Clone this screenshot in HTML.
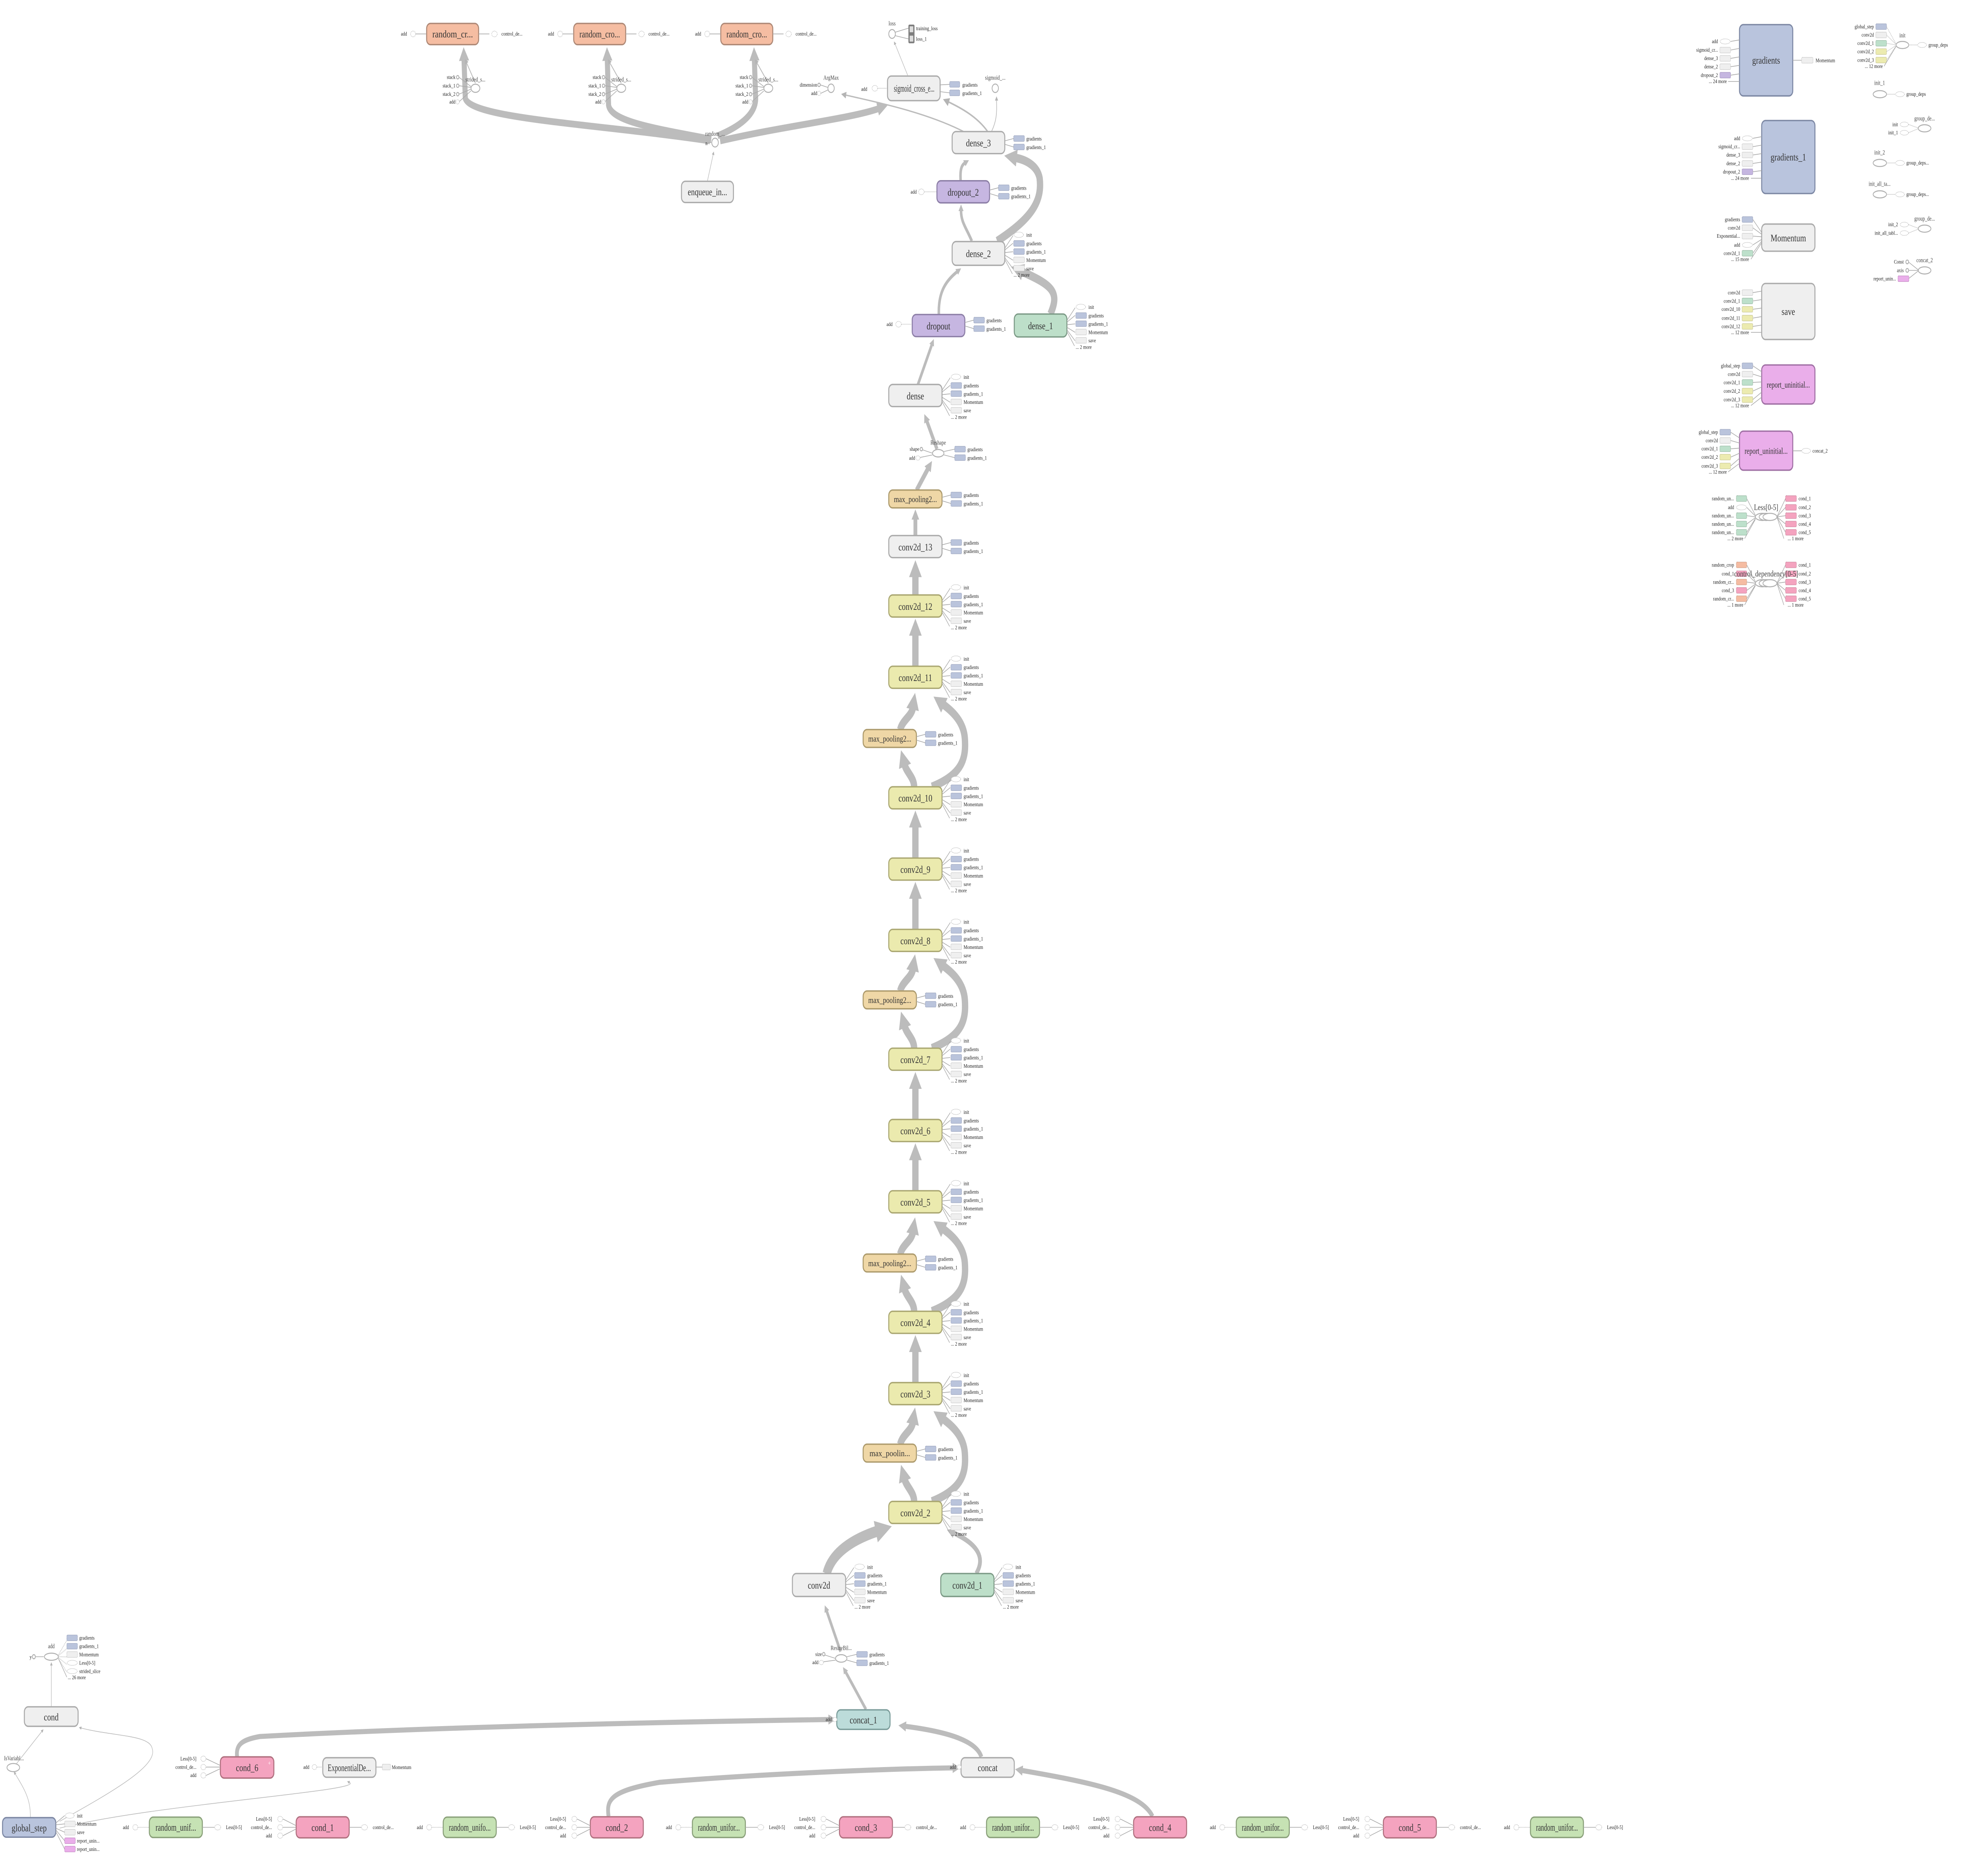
<!DOCTYPE html>
<html><head><meta charset="utf-8"><title>graph</title>
<style>
html,body{margin:0;padding:0;background:#fff;overflow:hidden;width:100%;height:100%;}
svg{display:block;width:100vw;height:100vh;}
text{font-family:"Liberation Serif","DejaVu Serif",serif;fill:#333;}
.t{font-size:6px;text-anchor:middle;}
.tb{font-size:5.2px;text-anchor:middle;}
.s{font-size:3.3px;fill:#222;}
.se{font-size:3.3px;fill:#222;text-anchor:end;}
.sc{font-size:3.6px;fill:#444;text-anchor:middle;}
.N{stroke-width:.8;}
.gray{fill:#efefef;stroke:#ababab;}
.yel{fill:#ebeaae;stroke:#aaa772;}
.tan{fill:#efd7a6;stroke:#ac9a6c;}
.pur{fill:#c6b6e1;stroke:#8c7ea6;}
.grn{fill:#bddfc9;stroke:#7c9a86;}
.lgr{fill:#c6e2b4;stroke:#8aa07a;}
.pnk{fill:#f4a3bf;stroke:#b0707f;}
.tea{fill:#bcdcda;stroke:#7a9c9a;}
.org{fill:#f5bda2;stroke:#ad8876;}
.blu{fill:#b9c4dd;stroke:#7d88a4;}
.mag{fill:#eaaeea;stroke:#a070a4;}
.sl{fill:none;stroke:#aaa;stroke-width:.4;}
.sd{fill:none;stroke:#bbb;stroke-width:.4;stroke-dasharray:.6 .4;}
.de{fill:#fff;stroke:#bbb;stroke-width:.35;stroke-dasharray:.6 .4;}
.el{fill:#fff;stroke:#b0b0b0;stroke-width:.6;}
.rb{fill:#bac4dc;stroke:#8a94b0;stroke-width:.3;stroke-dasharray:.6 .3;}
.rg{fill:#efefef;stroke:#bbb;stroke-width:.3;stroke-dasharray:.6 .3;}
.ry{fill:#ecebb0;stroke:#b8b680;stroke-width:.3;stroke-dasharray:.6 .3;}
.rn{fill:#bde0cb;stroke:#86a892;stroke-width:.3;stroke-dasharray:.6 .3;}
.rp{fill:#f4a3bf;stroke:#c07890;stroke-width:.3;stroke-dasharray:.6 .3;}
.ro{fill:#f5bca2;stroke:#c0907a;stroke-width:.3;stroke-dasharray:.6 .3;}
.rv{fill:#c5b6e0;stroke:#9080b0;stroke-width:.3;stroke-dasharray:.6 .3;}
.rm{fill:#eaaeea;stroke:#b070b0;stroke-width:.3;stroke-dasharray:.6 .3;}
.E{fill:none;stroke:#bcbcbc;}
</style></head>
<body>
<svg xmlns="http://www.w3.org/2000/svg" viewBox="0 0 1568 1104" preserveAspectRatio="none">
<defs>
<marker id="a" viewBox="0 0 10 10" refX="1" refY="5" markerWidth="2" markerHeight="2" markerUnits="strokeWidth" orient="auto"><path d="M0,0L10,5L0,10z" fill="#bcbcbc"/></marker>
<marker id="b" viewBox="0 0 10 10" refX="1" refY="5" markerWidth="5" markerHeight="5" markerUnits="strokeWidth" orient="auto"><path d="M0,0L10,5L0,10z" fill="#b4b4b4"/></marker>
</defs>
<rect width="1568" height="1104" fill="#fff"/>

<g class="E">
<path d="M560,83 C470,73 372,70 367,58 L366,35" stroke-width="4" marker-end="url(#a)"/>
<path d="M561,82 C520,76 482,72 480,62 L479,35" stroke-width="4" marker-end="url(#a)"/>
<path d="M566,80 C582,75 596,68 596,58 L595,35" stroke-width="4" marker-end="url(#a)"/>
<path d="M568,83 C620,74 670,70 693,64" stroke-width="4" marker-end="url(#a)"/>
<path d="M375,49 L368,37" stroke-width=".6" marker-end="url(#b)"/>
<path d="M490,49 L481,37" stroke-width=".6" marker-end="url(#b)"/>
<path d="M606,49 L597,37" stroke-width=".6" marker-end="url(#b)"/>
<path d="M558,106.5 L562.5,91" stroke-width=".4" marker-end="url(#b)"/>
<path d="M716,44.5 L706,26" stroke-width=".4" marker-end="url(#b)"/>
<path d="M760,77.5 C730,66 690,60 667,56" stroke-width=".8" marker-end="url(#b)"/>
<path d="M779,77.5 C770,68 756,63 748,60" stroke-width="1" marker-end="url(#b)"/>
<path d="M782,77.5 C787,70 786,64 786,59" stroke-width=".5" marker-end="url(#b)"/>
<path d="M757.7,106.5 C757,99 759,97 761,96" stroke-width="2" marker-end="url(#a)"/>
<path d="M786.5,142 C815,128 822,118 820,105 C818,97 808,94 801,93" stroke-width="5" marker-end="url(#a)"/>
<path d="M766.5,142 C762,134 758,131 758,124" stroke-width="2" marker-end="url(#a)"/>
<path d="M828.5,185 C836,172 830,168 806,160" stroke-width="5" marker-end="url(#a)"/>
<path d="M740.5,185 C740,171 747,165 755,160" stroke-width="2" marker-end="url(#a)"/>
<path d="M724,226.5 L735,203" stroke-width="2" marker-end="url(#a)"/>
<path d="M739,264.5 L731,248" stroke-width="2.5" marker-end="url(#a)"/>
<path d="M723,288.7 L732,276" stroke-width="3" marker-end="url(#a)"/>
<path d="M722,315.5 L722,305.5" stroke-width="3" marker-end="url(#a)"/>
<path d="M722,350.5 L722,339" stroke-width="5" marker-end="url(#a)"/>
<path d="M722,392.5 L722,373.5" stroke-width="5" marker-end="url(#a)"/>
<path d="M722,505.5 L722,486.5" stroke-width="5" marker-end="url(#a)"/>
<path d="M722,547.5 L722,528.5" stroke-width="5" marker-end="url(#a)"/>
<path d="M722,659.5 L722,640.5" stroke-width="5" marker-end="url(#a)"/>
<path d="M722,701.5 L722,682.5" stroke-width="5" marker-end="url(#a)"/>
<path d="M722,814.5 L722,795.5" stroke-width="5" marker-end="url(#a)"/>
<g transform="translate(722,891)"><path d="M-1,-6.5 C-1,-12 -7,-15 -8.5,-19.5" stroke-width="5" marker-end="url(#a)"/><path d="M-12,-40.2 C-10,-46 -3,-48 -2,-53" stroke-width="5" marker-end="url(#a)"/><path d="M13,-6.5 C38,-14 40,-24 39,-35 C38,-46 27,-52 22,-55" stroke-width="5" marker-end="url(#a)"/></g>
<g transform="translate(722,779)"><path d="M-1,-6.5 C-1,-12 -7,-15 -8.5,-19.5" stroke-width="5" marker-end="url(#a)"/><path d="M-12,-40.2 C-10,-46 -3,-48 -2,-53" stroke-width="5" marker-end="url(#a)"/><path d="M13,-6.5 C38,-14 40,-24 39,-35 C38,-46 27,-52 22,-55" stroke-width="5" marker-end="url(#a)"/></g>
<g transform="translate(722,624)"><path d="M-1,-6.5 C-1,-12 -7,-15 -8.5,-19.5" stroke-width="5" marker-end="url(#a)"/><path d="M-12,-40.2 C-10,-46 -3,-48 -2,-53" stroke-width="5" marker-end="url(#a)"/><path d="M13,-6.5 C38,-14 40,-24 39,-35 C38,-46 27,-52 22,-55" stroke-width="5" marker-end="url(#a)"/></g>
<g transform="translate(722,470)"><path d="M-1,-6.5 C-1,-12 -7,-15 -8.5,-19.5" stroke-width="5" marker-end="url(#a)"/><path d="M-12,-40.2 C-10,-46 -3,-48 -2,-53" stroke-width="5" marker-end="url(#a)"/><path d="M13,-6.5 C38,-14 40,-24 39,-35 C38,-46 27,-52 22,-55" stroke-width="5" marker-end="url(#a)"/></g>
<path d="M652,927 C656,915 672,907 692,902" stroke-width="6.5" marker-end="url(#a)"/>
<path d="M770,927 C777,918 772,910 752,903" stroke-width="3" marker-end="url(#a)"/>
<path d="M663,973 L652,949" stroke-width="2" marker-end="url(#a)"/>
<path d="M683,1007 L667,985" stroke-width="2" marker-end="url(#a)"/>
<path d="M774,1035 C770,1025 745,1020 714,1017" stroke-width="3" marker-end="url(#a)"/>
<path d="M187,1035 C186,1028 190,1025 205,1023 C350,1017 560,1014 654,1013" stroke-width="3" marker-end="url(#a)"/>
<path d="M480,1070 C478,1060 482,1055 520,1050 C600,1045 700,1042 752,1041.5" stroke-width="3" marker-end="url(#a)"/>
<path d="M909,1070 C900,1056 860,1050 806,1043" stroke-width="3" marker-end="url(#a)"/>
<path d="M24,1070.5 C24,1060 20,1055 12,1045" stroke-width=".4" marker-end="url(#b)"/>
<path d="M13,1039 L33,1020" stroke-width=".4" marker-end="url(#b)"/>
<path d="M47,1073 C90,1055 125,1040 120,1030 C118,1022 90,1023 64,1018" stroke-width=".4" marker-end="url(#b)"/>
<path d="M47,1077 C120,1063 290,1055 275.5,1050" stroke-width=".4" marker-end="url(#b)"/>
<path d="M40.5,1005.5 L40.5,981" stroke-width=".4" marker-end="url(#b)"/>
</g>

<g>
<rect class="N org" x="336.5" y="13.8" width="41" height="12.5" rx="3"/><text class="t" x="357" y="22" textLength="32" lengthAdjust="spacingAndGlyphs">random_cr...</text>
<text class="se" x="321" y="21">add</text><ellipse class="de" cx="325.8" cy="20" rx="2" ry="1.7"/><path class="sl" d="M328,20H336"/><path class="sl" d="M377.5,20H386"/><ellipse class="de" cx="390" cy="20" rx="2.2" ry="1.7"/><text class="s" x="395.5" y="21">control_de...</text>
<rect class="N org" x="452.5" y="13.8" width="41" height="12.5" rx="3"/><text class="t" x="473" y="22" textLength="32" lengthAdjust="spacingAndGlyphs">random_cro...</text>
<text class="se" x="437" y="21">add</text><ellipse class="de" cx="441.8" cy="20" rx="2" ry="1.7"/><path class="sl" d="M444,20H452"/><path class="sl" d="M493.5,20H502"/><ellipse class="de" cx="506" cy="20" rx="2.2" ry="1.7"/><text class="s" x="511.5" y="21">control_de...</text>
<rect class="N org" x="568.5" y="13.8" width="41" height="12.5" rx="3"/><text class="t" x="589" y="22" textLength="32" lengthAdjust="spacingAndGlyphs">random_cro...</text>
<text class="se" x="553" y="21">add</text><ellipse class="de" cx="557.8" cy="20" rx="2" ry="1.7"/><path class="sl" d="M560,20H568"/><path class="sl" d="M609.5,20H618"/><ellipse class="de" cx="622" cy="20" rx="2.2" ry="1.7"/><text class="s" x="627.5" y="21">control_de...</text>

<g transform="translate(375,52)"><ellipse class="el" cx="0" cy="0" rx="3.5" ry="2.4"/><text class="sc" x="0" y="-4">strided_s...</text><path class="sl" d="M-13,-6.5L-3.5,-1M-13,-1.5L-3.5,-.5M-13,3.5L-3.5,.5M-13,8L-3.5,1.5"/><circle class="el" cx="-14" cy="-6.5" r="1"/><circle class="el" cx="-14" cy="-1.5" r="1"/><circle class="el" cx="-14" cy="3.5" r="1"/><ellipse class="de" cx="-14" cy="8" rx="1.3" ry="1.3"/><text class="se" x="-15.8" y="-5.5">stack</text><text class="se" x="-15.8" y="-.5">stack_1</text><text class="se" x="-15.8" y="4.5">stack_2</text><text class="se" x="-15.8" y="9">add</text></g>
<g transform="translate(490,52)"><ellipse class="el" cx="0" cy="0" rx="3.5" ry="2.4"/><text class="sc" x="0" y="-4">strided_s...</text><path class="sl" d="M-13,-6.5L-3.5,-1M-13,-1.5L-3.5,-.5M-13,3.5L-3.5,.5M-13,8L-3.5,1.5"/><circle class="el" cx="-14" cy="-6.5" r="1"/><circle class="el" cx="-14" cy="-1.5" r="1"/><circle class="el" cx="-14" cy="3.5" r="1"/><ellipse class="de" cx="-14" cy="8" rx="1.3" ry="1.3"/><text class="se" x="-15.8" y="-5.5">stack</text><text class="se" x="-15.8" y="-.5">stack_1</text><text class="se" x="-15.8" y="4.5">stack_2</text><text class="se" x="-15.8" y="9">add</text></g>
<g transform="translate(606,52)"><ellipse class="el" cx="0" cy="0" rx="3.5" ry="2.4"/><text class="sc" x="0" y="-4">strided_s...</text><path class="sl" d="M-13,-6.5L-3.5,-1M-13,-1.5L-3.5,-.5M-13,3.5L-3.5,.5M-13,8L-3.5,1.5"/><circle class="el" cx="-14" cy="-6.5" r="1"/><circle class="el" cx="-14" cy="-1.5" r="1"/><circle class="el" cx="-14" cy="3.5" r="1"/><ellipse class="de" cx="-14" cy="8" rx="1.3" ry="1.3"/><text class="se" x="-15.8" y="-5.5">stack</text><text class="se" x="-15.8" y="-.5">stack_1</text><text class="se" x="-15.8" y="4.5">stack_2</text><text class="se" x="-15.8" y="9">add</text></g>

<ellipse class="el" cx="564" cy="84" rx="2.6" ry="2.6"/><text class="sc" x="564" y="80">random_...</text><text class="se" x="558" y="85.5">n</text><path class="sl" d="M558.5,84H561"/>
<rect class="N gray" x="537.5" y="106.8" width="41" height="12.5" rx="3"/><text class="t" x="558" y="115" textLength="31" lengthAdjust="spacingAndGlyphs">enqueue_in...</text>

<ellipse class="el" cx="703.6" cy="20" rx="2.6" ry="2.6"/><text class="sc" x="703.6" y="15">loss</text>
<path class="sl" d="M706,19L717,16.5M706,21L717,23"/>
<rect x="716.5" y="14.5" width="4.8" height="11" rx=".8" fill="#7e7e7e"/><rect x="717.5" y="15.5" width="2.8" height="3.5" fill="#ddd"/><rect x="717.5" y="21" width="2.8" height="3.5" fill="#ddd"/>
<text class="s" x="722.5" y="17.8">training_loss</text><text class="s" x="722.5" y="24">loss_1</text>
<ellipse class="el" cx="655.5" cy="52" rx="2.5" ry="2.5"/><text class="sc" x="655.5" y="47">ArgMax</text>
<circle class="el" cx="646" cy="50" r="1"/><ellipse class="de" cx="646" cy="55" rx="1.3" ry="1.3"/><path class="sl" d="M647,50L653,51.5M647.3,55L653,53"/>
<text class="se" x="644.5" y="51">dimension</text><text class="se" x="644.5" y="56">add</text>
<ellipse class="el" cx="785" cy="52" rx="2.5" ry="2.5"/><text class="sc" x="785" y="47">sigmoid_...</text>
<rect class="N gray" x="700" y="44.8" width="41.5" height="14.5" rx="3"/><text class="t" x="721" y="54" textLength="32" lengthAdjust="spacingAndGlyphs">sigmoid_cross_e...</text>
<text class="se" x="684" y="53.5">add</text><ellipse class="de" cx="690" cy="52" rx="2.2" ry="1.7"/><path class="sd" d="M692.3,52H699.5"/>
<path class="sl" d="M741.5,50L749,49.7M741.5,54L749,54.7"/><rect class="rb" x="749" y="48" width="8" height="3.4" rx=".6"/><rect class="rb" x="749" y="53" width="8" height="3.4" rx=".6"/><text class="s" x="759" y="51">gradients</text><text class="s" x="759" y="56">gradients_1</text>

<rect class="N gray" x="751" y="77.5" width="41.5" height="13" rx="3"/><text class="t" x="771.7" y="86.2">dense_3</text>
<g transform="translate(792.5,84)"><path class="sl" d="M0-1L7-2.4M0 1L7 2.6"/><rect class="rb" x="7" y="-4.1" width="8.5" height="3.4" rx=".6"/><rect class="rb" x="7" y="0.9" width="8.5" height="3.4" rx=".6"/><text class="s" x="17" y="-1.2">gradients</text><text class="s" x="17" y="3.8">gradients_1</text></g>
<rect class="N pur" x="739" y="106.5" width="41.5" height="13" rx="3"/><text class="t" x="759.7" y="115.2">dropout_2</text>
<text class="se" x="723" y="114">add</text><ellipse class="de" cx="726.7" cy="113" rx="2.2" ry="1.7"/><path class="sd" d="M729,113H738.5"/>
<g transform="translate(780.5,113)"><path class="sl" d="M0-1L7-2.4M0 1L7 2.6"/><rect class="rb" x="7" y="-4.1" width="8.5" height="3.4" rx=".6"/><rect class="rb" x="7" y="0.9" width="8.5" height="3.4" rx=".6"/><text class="s" x="17" y="-1.2">gradients</text><text class="s" x="17" y="3.8">gradients_1</text></g>
<rect class="N gray" x="751" y="142.3" width="41.5" height="14" rx="3"/><text class="t" x="771.7" y="151.4">dense_2</text>
<rect class="N pur" x="719.5" y="185.3" width="41.5" height="13" rx="3"/><text class="t" x="740.2" y="194">dropout</text>
<text class="se" x="704" y="192">add</text><ellipse class="de" cx="708.7" cy="191" rx="2.2" ry="1.7"/><path class="sd" d="M711,191H719"/>
<g transform="translate(761,191)"><path class="sl" d="M0-1L7-2.4M0 1L7 2.6"/><rect class="rb" x="7" y="-4.1" width="8.5" height="3.4" rx=".6"/><rect class="rb" x="7" y="0.9" width="8.5" height="3.4" rx=".6"/><text class="s" x="17" y="-1.2">gradients</text><text class="s" x="17" y="3.8">gradients_1</text></g>
<rect class="N grn" x="800" y="185" width="41.5" height="13.5" rx="3"/><text class="t" x="820.7" y="193.9">dense_1</text>
<rect class="N gray" x="701" y="226.5" width="42" height="13" rx="3"/><text class="t" x="722" y="235.2">dense</text>
<ellipse class="el" cx="740" cy="267" rx="4.5" ry="2.2"/><text class="sc" x="740" y="262">Reshape</text>
<circle class="el" cx="726.7" cy="264.6" r="1"/><ellipse class="de" cx="724" cy="269.8" rx="1.7" ry="1.3"/><path class="sl" d="M727.7,265L735.5,267M725.7,269.5L735.5,268"/>
<text class="se" x="725" y="265.6">shape</text><text class="se" x="721.8" y="270.8">add</text>
<g transform="translate(744.5,267)"><path class="sl" d="M0-1L8.5-2.4M0 1L8.5 2.6"/><rect class="rb" x="8.5" y="-4.1" width="8.5" height="3.4" rx=".6"/><rect class="rb" x="8.5" y="0.9" width="8.5" height="3.4" rx=".6"/><text class="s" x="18.5" y="-1.2">gradients</text><text class="s" x="18.5" y="3.8">gradients_1</text></g>
<rect class="N tan" x="701" y="288.7" width="42" height="10.5" rx="3"/><text class="tb" x="722" y="295.8" textLength="34" lengthAdjust="spacingAndGlyphs">max_pooling2...</text>
<g transform="translate(743,294)"><path class="sl" d="M0-1L7-2.4M0 1L7 2.6"/><rect class="rb" x="7" y="-4.1" width="8.5" height="3.4" rx=".6"/><rect class="rb" x="7" y="0.9" width="8.5" height="3.4" rx=".6"/><text class="s" x="17" y="-1.2">gradients</text><text class="s" x="17" y="3.8">gradients_1</text></g>
<rect class="N gray" x="701" y="315.5" width="42" height="13" rx="3"/><text class="t" x="722" y="324.2">conv2d_13</text>
<g transform="translate(743,322)"><path class="sl" d="M0-1L7-2.4M0 1L7 2.6"/><rect class="rb" x="7" y="-4.1" width="8.5" height="3.4" rx=".6"/><rect class="rb" x="7" y="0.9" width="8.5" height="3.4" rx=".6"/><text class="s" x="17" y="-1.2">gradients</text><text class="s" x="17" y="3.8">gradients_1</text></g>
</g>

<g>
<rect class="N yel" x="701" y="350.5" width="42" height="13" rx="3"/><text class="t" x="722" y="359.2">conv2d_12</text>
<rect class="N yel" x="701" y="392.5" width="42" height="13" rx="3"/><text class="t" x="722" y="401.2">conv2d_11</text>
<rect class="N yel" x="701" y="463.5" width="42" height="13" rx="3"/><text class="t" x="722" y="472.2">conv2d_10</text>
<rect class="N yel" x="701" y="505.5" width="42" height="13" rx="3"/><text class="t" x="722" y="514.2">conv2d_9</text>
<rect class="N yel" x="701" y="547.5" width="42" height="13" rx="3"/><text class="t" x="722" y="556.2">conv2d_8</text>
<rect class="N yel" x="701" y="617.5" width="42" height="13" rx="3"/><text class="t" x="722" y="626.2">conv2d_7</text>
<rect class="N yel" x="701" y="659.5" width="42" height="13" rx="3"/><text class="t" x="722" y="668.2">conv2d_6</text>
<rect class="N yel" x="701" y="701.5" width="42" height="13" rx="3"/><text class="t" x="722" y="710.2">conv2d_5</text>
<rect class="N yel" x="701" y="772.5" width="42" height="13" rx="3"/><text class="t" x="722" y="781.2">conv2d_4</text>
<rect class="N yel" x="701" y="814.5" width="42" height="13" rx="3"/><text class="t" x="722" y="823.2">conv2d_3</text>
<rect class="N yel" x="701" y="884.5" width="42" height="13" rx="3"/><text class="t" x="722" y="893.2">conv2d_2</text>
<rect class="N gray" x="625" y="927" width="42" height="13.5" rx="3"/><text class="t" x="646" y="935.9">conv2d</text>
<rect class="N grn" x="742" y="927" width="42" height="13.5" rx="3"/><text class="t" x="763" y="935.9">conv2d_1</text>
<rect class="N tan" x="680.8" y="429.8" width="42" height="10.5" rx="3"/><text class="tb" x="701.8" y="436.9" textLength="34" lengthAdjust="spacingAndGlyphs">max_pooling2...</text>
<rect class="N tan" x="680.8" y="583.8" width="42" height="10.5" rx="3"/><text class="tb" x="701.8" y="590.9" textLength="34" lengthAdjust="spacingAndGlyphs">max_pooling2...</text>
<rect class="N tan" x="680.8" y="738.8" width="42" height="10.5" rx="3"/><text class="tb" x="701.8" y="745.9" textLength="34" lengthAdjust="spacingAndGlyphs">max_pooling2...</text>
<rect class="N tan" x="680.8" y="850.8" width="42" height="10.5" rx="3"/><text class="tb" x="701.8" y="857.9" textLength="32" lengthAdjust="spacingAndGlyphs">max_poolin...</text>
</g>

<g transform="translate(722.8,435)"><path class="sl" d="M0-1L7-2.4M0 1L7 2.6"/><rect class="rb" x="7" y="-4.1" width="8.5" height="3.4" rx=".6"/><rect class="rb" x="7" y="0.9" width="8.5" height="3.4" rx=".6"/><text class="s" x="17" y="-1.2">gradients</text><text class="s" x="17" y="3.8">gradients_1</text></g>
<g transform="translate(722.8,589)"><path class="sl" d="M0-1L7-2.4M0 1L7 2.6"/><rect class="rb" x="7" y="-4.1" width="8.5" height="3.4" rx=".6"/><rect class="rb" x="7" y="0.9" width="8.5" height="3.4" rx=".6"/><text class="s" x="17" y="-1.2">gradients</text><text class="s" x="17" y="3.8">gradients_1</text></g>
<g transform="translate(722.8,744)"><path class="sl" d="M0-1L7-2.4M0 1L7 2.6"/><rect class="rb" x="7" y="-4.1" width="8.5" height="3.4" rx=".6"/><rect class="rb" x="7" y="0.9" width="8.5" height="3.4" rx=".6"/><text class="s" x="17" y="-1.2">gradients</text><text class="s" x="17" y="3.8">gradients_1</text></g>
<g transform="translate(722.8,856)"><path class="sl" d="M0-1L7-2.4M0 1L7 2.6"/><rect class="rb" x="7" y="-4.1" width="8.5" height="3.4" rx=".6"/><rect class="rb" x="7" y="0.9" width="8.5" height="3.4" rx=".6"/><text class="s" x="17" y="-1.2">gradients</text><text class="s" x="17" y="3.8">gradients_1</text></g>

<g transform="translate(743,233)"><path class="sl" d="M0-3L6.5-10.5M0-2L6.5-6M0-0.5L6.5-1M0 1L6.5 4M0 2.5L6.5 9M0 3.5L6 12"/><ellipse class="de" cx="11" cy="-11" rx="3.8" ry="1.6"/><rect class="rb" x="7" y="-7.6" width="8.5" height="3.4" rx=".6"/><rect class="rb" x="7" y="-2.8" width="8.5" height="3.4" rx=".6"/><rect class="rg" x="7" y="2.1" width="8.5" height="3.4" rx=".6"/><rect class="rg" x="7" y="7" width="8.5" height="3.4" rx=".6"/><text class="s" x="17" y="-9.8">init</text><text class="s" x="17" y="-4.8">gradients</text><text class="s" x="17" y="0.1">gradients_1</text><text class="s" x="17" y="5">Momentum</text><text class="s" x="17" y="9.9">save</text><text class="s" x="7" y="13.7">... 2 more</text></g>
<g transform="translate(792.5,149.3)"><path class="sl" d="M0-3L6.5-10.5M0-2L6.5-6M0-0.5L6.5-1M0 1L6.5 4M0 2.5L6.5 9M0 3.5L6 12"/><ellipse class="de" cx="11" cy="-11" rx="3.8" ry="1.6"/><rect class="rb" x="7" y="-7.6" width="8.5" height="3.4" rx=".6"/><rect class="rb" x="7" y="-2.8" width="8.5" height="3.4" rx=".6"/><rect class="rg" x="7" y="2.1" width="8.5" height="3.4" rx=".6"/><rect class="rg" x="7" y="7" width="8.5" height="3.4" rx=".6"/><text class="s" x="17" y="-9.8">init</text><text class="s" x="17" y="-4.8">gradients</text><text class="s" x="17" y="0.1">gradients_1</text><text class="s" x="17" y="5">Momentum</text><text class="s" x="17" y="9.9">save</text><text class="s" x="7" y="13.7">... 2 more</text></g>
<g transform="translate(841.5,191.8)"><path class="sl" d="M0-3L6.5-10.5M0-2L6.5-6M0-0.5L6.5-1M0 1L6.5 4M0 2.5L6.5 9M0 3.5L6 12"/><ellipse class="de" cx="11" cy="-11" rx="3.8" ry="1.6"/><rect class="rb" x="7" y="-7.6" width="8.5" height="3.4" rx=".6"/><rect class="rb" x="7" y="-2.8" width="8.5" height="3.4" rx=".6"/><rect class="rg" x="7" y="2.1" width="8.5" height="3.4" rx=".6"/><rect class="rg" x="7" y="7" width="8.5" height="3.4" rx=".6"/><text class="s" x="17" y="-9.8">init</text><text class="s" x="17" y="-4.8">gradients</text><text class="s" x="17" y="0.1">gradients_1</text><text class="s" x="17" y="5">Momentum</text><text class="s" x="17" y="9.9">save</text><text class="s" x="7" y="13.7">... 2 more</text></g>
<g transform="translate(743,357)"><path class="sl" d="M0-3L6.5-10.5M0-2L6.5-6M0-0.5L6.5-1M0 1L6.5 4M0 2.5L6.5 9M0 3.5L6 12"/><ellipse class="de" cx="11" cy="-11" rx="3.8" ry="1.6"/><rect class="rb" x="7" y="-7.6" width="8.5" height="3.4" rx=".6"/><rect class="rb" x="7" y="-2.8" width="8.5" height="3.4" rx=".6"/><rect class="rg" x="7" y="2.1" width="8.5" height="3.4" rx=".6"/><rect class="rg" x="7" y="7" width="8.5" height="3.4" rx=".6"/><text class="s" x="17" y="-9.8">init</text><text class="s" x="17" y="-4.8">gradients</text><text class="s" x="17" y="0.1">gradients_1</text><text class="s" x="17" y="5">Momentum</text><text class="s" x="17" y="9.9">save</text><text class="s" x="7" y="13.7">... 2 more</text></g>
<g transform="translate(743,399)"><path class="sl" d="M0-3L6.5-10.5M0-2L6.5-6M0-0.5L6.5-1M0 1L6.5 4M0 2.5L6.5 9M0 3.5L6 12"/><ellipse class="de" cx="11" cy="-11" rx="3.8" ry="1.6"/><rect class="rb" x="7" y="-7.6" width="8.5" height="3.4" rx=".6"/><rect class="rb" x="7" y="-2.8" width="8.5" height="3.4" rx=".6"/><rect class="rg" x="7" y="2.1" width="8.5" height="3.4" rx=".6"/><rect class="rg" x="7" y="7" width="8.5" height="3.4" rx=".6"/><text class="s" x="17" y="-9.8">init</text><text class="s" x="17" y="-4.8">gradients</text><text class="s" x="17" y="0.1">gradients_1</text><text class="s" x="17" y="5">Momentum</text><text class="s" x="17" y="9.9">save</text><text class="s" x="7" y="13.7">... 2 more</text></g>
<g transform="translate(743,470)"><path class="sl" d="M0-3L6.5-10.5M0-2L6.5-6M0-0.5L6.5-1M0 1L6.5 4M0 2.5L6.5 9M0 3.5L6 12"/><ellipse class="de" cx="11" cy="-11" rx="3.8" ry="1.6"/><rect class="rb" x="7" y="-7.6" width="8.5" height="3.4" rx=".6"/><rect class="rb" x="7" y="-2.8" width="8.5" height="3.4" rx=".6"/><rect class="rg" x="7" y="2.1" width="8.5" height="3.4" rx=".6"/><rect class="rg" x="7" y="7" width="8.5" height="3.4" rx=".6"/><text class="s" x="17" y="-9.8">init</text><text class="s" x="17" y="-4.8">gradients</text><text class="s" x="17" y="0.1">gradients_1</text><text class="s" x="17" y="5">Momentum</text><text class="s" x="17" y="9.9">save</text><text class="s" x="7" y="13.7">... 2 more</text></g>
<g transform="translate(743,512)"><path class="sl" d="M0-3L6.5-10.5M0-2L6.5-6M0-0.5L6.5-1M0 1L6.5 4M0 2.5L6.5 9M0 3.5L6 12"/><ellipse class="de" cx="11" cy="-11" rx="3.8" ry="1.6"/><rect class="rb" x="7" y="-7.6" width="8.5" height="3.4" rx=".6"/><rect class="rb" x="7" y="-2.8" width="8.5" height="3.4" rx=".6"/><rect class="rg" x="7" y="2.1" width="8.5" height="3.4" rx=".6"/><rect class="rg" x="7" y="7" width="8.5" height="3.4" rx=".6"/><text class="s" x="17" y="-9.8">init</text><text class="s" x="17" y="-4.8">gradients</text><text class="s" x="17" y="0.1">gradients_1</text><text class="s" x="17" y="5">Momentum</text><text class="s" x="17" y="9.9">save</text><text class="s" x="7" y="13.7">... 2 more</text></g>
<g transform="translate(743,554)"><path class="sl" d="M0-3L6.5-10.5M0-2L6.5-6M0-0.5L6.5-1M0 1L6.5 4M0 2.5L6.5 9M0 3.5L6 12"/><ellipse class="de" cx="11" cy="-11" rx="3.8" ry="1.6"/><rect class="rb" x="7" y="-7.6" width="8.5" height="3.4" rx=".6"/><rect class="rb" x="7" y="-2.8" width="8.5" height="3.4" rx=".6"/><rect class="rg" x="7" y="2.1" width="8.5" height="3.4" rx=".6"/><rect class="rg" x="7" y="7" width="8.5" height="3.4" rx=".6"/><text class="s" x="17" y="-9.8">init</text><text class="s" x="17" y="-4.8">gradients</text><text class="s" x="17" y="0.1">gradients_1</text><text class="s" x="17" y="5">Momentum</text><text class="s" x="17" y="9.9">save</text><text class="s" x="7" y="13.7">... 2 more</text></g>
<g transform="translate(743,624)"><path class="sl" d="M0-3L6.5-10.5M0-2L6.5-6M0-0.5L6.5-1M0 1L6.5 4M0 2.5L6.5 9M0 3.5L6 12"/><ellipse class="de" cx="11" cy="-11" rx="3.8" ry="1.6"/><rect class="rb" x="7" y="-7.6" width="8.5" height="3.4" rx=".6"/><rect class="rb" x="7" y="-2.8" width="8.5" height="3.4" rx=".6"/><rect class="rg" x="7" y="2.1" width="8.5" height="3.4" rx=".6"/><rect class="rg" x="7" y="7" width="8.5" height="3.4" rx=".6"/><text class="s" x="17" y="-9.8">init</text><text class="s" x="17" y="-4.8">gradients</text><text class="s" x="17" y="0.1">gradients_1</text><text class="s" x="17" y="5">Momentum</text><text class="s" x="17" y="9.9">save</text><text class="s" x="7" y="13.7">... 2 more</text></g>
<g transform="translate(743,666)"><path class="sl" d="M0-3L6.5-10.5M0-2L6.5-6M0-0.5L6.5-1M0 1L6.5 4M0 2.5L6.5 9M0 3.5L6 12"/><ellipse class="de" cx="11" cy="-11" rx="3.8" ry="1.6"/><rect class="rb" x="7" y="-7.6" width="8.5" height="3.4" rx=".6"/><rect class="rb" x="7" y="-2.8" width="8.5" height="3.4" rx=".6"/><rect class="rg" x="7" y="2.1" width="8.5" height="3.4" rx=".6"/><rect class="rg" x="7" y="7" width="8.5" height="3.4" rx=".6"/><text class="s" x="17" y="-9.8">init</text><text class="s" x="17" y="-4.8">gradients</text><text class="s" x="17" y="0.1">gradients_1</text><text class="s" x="17" y="5">Momentum</text><text class="s" x="17" y="9.9">save</text><text class="s" x="7" y="13.7">... 2 more</text></g>
<g transform="translate(743,708)"><path class="sl" d="M0-3L6.5-10.5M0-2L6.5-6M0-0.5L6.5-1M0 1L6.5 4M0 2.5L6.5 9M0 3.5L6 12"/><ellipse class="de" cx="11" cy="-11" rx="3.8" ry="1.6"/><rect class="rb" x="7" y="-7.6" width="8.5" height="3.4" rx=".6"/><rect class="rb" x="7" y="-2.8" width="8.5" height="3.4" rx=".6"/><rect class="rg" x="7" y="2.1" width="8.5" height="3.4" rx=".6"/><rect class="rg" x="7" y="7" width="8.5" height="3.4" rx=".6"/><text class="s" x="17" y="-9.8">init</text><text class="s" x="17" y="-4.8">gradients</text><text class="s" x="17" y="0.1">gradients_1</text><text class="s" x="17" y="5">Momentum</text><text class="s" x="17" y="9.9">save</text><text class="s" x="7" y="13.7">... 2 more</text></g>
<g transform="translate(743,779)"><path class="sl" d="M0-3L6.5-10.5M0-2L6.5-6M0-0.5L6.5-1M0 1L6.5 4M0 2.5L6.5 9M0 3.5L6 12"/><ellipse class="de" cx="11" cy="-11" rx="3.8" ry="1.6"/><rect class="rb" x="7" y="-7.6" width="8.5" height="3.4" rx=".6"/><rect class="rb" x="7" y="-2.8" width="8.5" height="3.4" rx=".6"/><rect class="rg" x="7" y="2.1" width="8.5" height="3.4" rx=".6"/><rect class="rg" x="7" y="7" width="8.5" height="3.4" rx=".6"/><text class="s" x="17" y="-9.8">init</text><text class="s" x="17" y="-4.8">gradients</text><text class="s" x="17" y="0.1">gradients_1</text><text class="s" x="17" y="5">Momentum</text><text class="s" x="17" y="9.9">save</text><text class="s" x="7" y="13.7">... 2 more</text></g>
<g transform="translate(743,821)"><path class="sl" d="M0-3L6.5-10.5M0-2L6.5-6M0-0.5L6.5-1M0 1L6.5 4M0 2.5L6.5 9M0 3.5L6 12"/><ellipse class="de" cx="11" cy="-11" rx="3.8" ry="1.6"/><rect class="rb" x="7" y="-7.6" width="8.5" height="3.4" rx=".6"/><rect class="rb" x="7" y="-2.8" width="8.5" height="3.4" rx=".6"/><rect class="rg" x="7" y="2.1" width="8.5" height="3.4" rx=".6"/><rect class="rg" x="7" y="7" width="8.5" height="3.4" rx=".6"/><text class="s" x="17" y="-9.8">init</text><text class="s" x="17" y="-4.8">gradients</text><text class="s" x="17" y="0.1">gradients_1</text><text class="s" x="17" y="5">Momentum</text><text class="s" x="17" y="9.9">save</text><text class="s" x="7" y="13.7">... 2 more</text></g>
<g transform="translate(743,891)"><path class="sl" d="M0-3L6.5-10.5M0-2L6.5-6M0-0.5L6.5-1M0 1L6.5 4M0 2.5L6.5 9M0 3.5L6 12"/><ellipse class="de" cx="11" cy="-11" rx="3.8" ry="1.6"/><rect class="rb" x="7" y="-7.6" width="8.5" height="3.4" rx=".6"/><rect class="rb" x="7" y="-2.8" width="8.5" height="3.4" rx=".6"/><rect class="rg" x="7" y="2.1" width="8.5" height="3.4" rx=".6"/><rect class="rg" x="7" y="7" width="8.5" height="3.4" rx=".6"/><text class="s" x="17" y="-9.8">init</text><text class="s" x="17" y="-4.8">gradients</text><text class="s" x="17" y="0.1">gradients_1</text><text class="s" x="17" y="5">Momentum</text><text class="s" x="17" y="9.9">save</text><text class="s" x="7" y="13.7">... 2 more</text></g>
<g transform="translate(667,934)"><path class="sl" d="M0-3L6.5-10.5M0-2L6.5-6M0-0.5L6.5-1M0 1L6.5 4M0 2.5L6.5 9M0 3.5L6 12"/><ellipse class="de" cx="11" cy="-11" rx="3.8" ry="1.6"/><rect class="rb" x="7" y="-7.6" width="8.5" height="3.4" rx=".6"/><rect class="rb" x="7" y="-2.8" width="8.5" height="3.4" rx=".6"/><rect class="rg" x="7" y="2.1" width="8.5" height="3.4" rx=".6"/><rect class="rg" x="7" y="7" width="8.5" height="3.4" rx=".6"/><text class="s" x="17" y="-9.8">init</text><text class="s" x="17" y="-4.8">gradients</text><text class="s" x="17" y="0.1">gradients_1</text><text class="s" x="17" y="5">Momentum</text><text class="s" x="17" y="9.9">save</text><text class="s" x="7" y="13.7">... 2 more</text></g>
<g transform="translate(784,934)"><path class="sl" d="M0-3L6.5-10.5M0-2L6.5-6M0-0.5L6.5-1M0 1L6.5 4M0 2.5L6.5 9M0 3.5L6 12"/><ellipse class="de" cx="11" cy="-11" rx="3.8" ry="1.6"/><rect class="rb" x="7" y="-7.6" width="8.5" height="3.4" rx=".6"/><rect class="rb" x="7" y="-2.8" width="8.5" height="3.4" rx=".6"/><rect class="rg" x="7" y="2.1" width="8.5" height="3.4" rx=".6"/><rect class="rg" x="7" y="7" width="8.5" height="3.4" rx=".6"/><text class="s" x="17" y="-9.8">init</text><text class="s" x="17" y="-4.8">gradients</text><text class="s" x="17" y="0.1">gradients_1</text><text class="s" x="17" y="5">Momentum</text><text class="s" x="17" y="9.9">save</text><text class="s" x="7" y="13.7">... 2 more</text></g>

<ellipse class="el" cx="663.5" cy="977" rx="4.5" ry="2.2"/><text class="sc" x="663.5" y="972">ResizeBil...</text>
<circle class="el" cx="649.7" cy="974.5" r="1"/><ellipse class="de" cx="647.8" cy="979.4" rx="1.7" ry="1.3"/><path class="sl" d="M650.7,975L659,977M649.5,979L659,978"/>
<text class="se" x="648.2" y="975.5">size</text><text class="se" x="645.5" y="980.4">add</text>
<g transform="translate(668,977)"><path class="sl" d="M0-1L7.7-2.4M0 1L7.7 2.6"/><rect class="rb" x="7.7" y="-4.1" width="8.5" height="3.4" rx=".6"/><rect class="rb" x="7.7" y="0.9" width="8.5" height="3.4" rx=".6"/><text class="s" x="17.7" y="-1.2">gradients</text><text class="s" x="17.7" y="3.8">gradients_1</text></g>

<rect class="N tea" x="660" y="1007.3" width="42" height="11.5" rx="3"/><text class="t" x="681" y="1015.2">concat_1</text>
<text class="se" x="656" y="1014">add</text><ellipse class="de" cx="658.5" cy="1013" rx="1.7" ry="1.3"/>
<rect class="N gray" x="758" y="1035.5" width="42" height="11.5" rx="3"/><text class="t" x="779" y="1043.4">concat</text>
<text class="se" x="754" y="1042">add</text><ellipse class="de" cx="756.5" cy="1041" rx="1.7" ry="1.3"/>

<rect class="N gray" x="19.2" y="1005.5" width="42.4" height="11.5" rx="3"/><text class="t" x="40.4" y="1013.5">cond</text>
<ellipse class="el" cx="40.5" cy="976" rx="5.5" ry="2.1"/><text class="sc" x="40.5" y="971">add</text>
<circle class="el" cx="26.7" cy="976" r="1.2"/><text class="se" x="25" y="977.2">y</text><path class="sl" d="M28,976H34.5"/>
<path class="sd" d="M46,975L52.7,966.3M46,975.5L52.7,971.2M46,976L52.7,976.1M46,976.5L52.7,980.5M46,977L52.7,985"/><path class="sl" d="M46,977L52.7,988"/>
<rect class="rb" x="52.7" y="963.2" width="8.4" height="3.4" rx=".6"/><rect class="rb" x="52.7" y="968.1" width="8.4" height="3.4" rx=".6"/><rect class="rg" x="52.7" y="973" width="8.4" height="3.4" rx=".6"/><ellipse class="de" cx="57" cy="979.6" rx="4" ry="1.5"/><ellipse class="de" cx="57" cy="984.5" rx="4" ry="1.5"/>
<text class="s" x="62.5" y="966">gradients</text><text class="s" x="62.5" y="970.9">gradients_1</text><text class="s" x="62.5" y="975.8">Momentum</text><text class="s" x="62.5" y="980.7">Less[0-5]</text><text class="s" x="62.5" y="985.6">strided_slice</text><text class="s" x="53.5" y="989.3">... 26 more</text>

<ellipse class="el" cx="10.5" cy="1041.3" rx="5" ry="2.4"/><text class="sc" x="11" y="1037">IsVariabl...</text>

<rect class="N blu" x="2" y="1070.8" width="42" height="11.5" rx="3"/><text class="t" x="23" y="1078.8">global_step</text>
<path class="sl" d="M44,1074L51,1069.6M44,1075L51,1074.5M44,1077L51,1079.4M44,1078L51,1084.4M44,1079L51,1089.3"/>
<ellipse class="de" cx="55" cy="1069.6" rx="3.5" ry="1.6"/><rect class="rg" x="51" y="1072.8" width="8.4" height="3.4" rx=".6"/><rect class="rg" x="51" y="1077.7" width="8.4" height="3.4" rx=".6"/><rect class="rm" x="51" y="1082.7" width="8.4" height="3.4" rx=".6"/><rect class="rm" x="51" y="1087.6" width="8.4" height="3.4" rx=".6"/>
<text class="s" x="60.7" y="1070.7">init</text><text class="s" x="60.7" y="1075.6">Momentum</text><text class="s" x="60.7" y="1080.5">save</text><text class="s" x="60.7" y="1085.5">report_unin...</text><text class="s" x="60.7" y="1090.4">report_unin...</text>

<rect class="N pnk" x="173.8" y="1035" width="42.2" height="12.5" rx="3"/><text class="t" x="194.9" y="1043.3">cond_6</text><text x="212.5" y="1040" style="font-size:4px;fill:#fff;text-anchor:middle">+</text>
<g transform="translate(194.9,1041)"><text class="se" x="-40" y="-3.9">Less[0-5]</text><text class="se" x="-40" y="1">control_de...</text><text class="se" x="-40" y="5.9">add</text><ellipse class="de" cx="-34.5" cy="-4.9" rx="2" ry="1.6"/><ellipse class="de" cx="-34.5" cy="0" rx="2" ry="1.6"/><ellipse class="de" cx="-34.5" cy="4.9" rx="2" ry="1.6"/><path class="sl" d="M-32.3,-4.9L-21.3,-1M-32.3,0H-21.3M-32.3,4.9L-21.3,1"/></g>
<rect class="N gray" x="254.6" y="1035.5" width="41.9" height="11.5" rx="3"/><text class="t" x="275.5" y="1043.3" textLength="34" lengthAdjust="spacingAndGlyphs">ExponentialDe...</text>
<text class="se" x="244" y="1042">add</text><ellipse class="de" cx="248" cy="1041" rx="1.8" ry="1.5"/><path class="sd" d="M250,1041H254"/>
<path class="sl" d="M296.5,1041H301.5"/><rect class="rg" x="301.5" y="1039.3" width="6.5" height="3.4" rx=".6"/><text class="s" x="309" y="1042.2">Momentum</text>

<g transform="translate(138.7,1076.5)"><rect class="N lgr" x="-20.9" y="-6" width="41.8" height="12" rx="3"/><text class="t" x="0" y="2" textLength="32" lengthAdjust="spacingAndGlyphs">random_unif...</text><text class="se" x="-37" y="1">add</text><ellipse class="de" cx="-32" cy="0" rx="2" ry="1.6"/><path class="sd" d="M-30,0H-21"/><path class="sl" d="M20.9,0H30.5"/><ellipse class="de" cx="33" cy="0" rx="2.4" ry="1.6"/><text class="s" x="39.5" y="1">Less[0-5]</text></g>
<g transform="translate(370.5,1076.5)"><rect class="N lgr" x="-20.9" y="-6" width="41.8" height="12" rx="3"/><text class="t" x="0" y="2" textLength="33" lengthAdjust="spacingAndGlyphs">random_unifo...</text><text class="se" x="-37" y="1">add</text><ellipse class="de" cx="-32" cy="0" rx="2" ry="1.6"/><path class="sd" d="M-30,0H-21"/><path class="sl" d="M20.9,0H30.5"/><ellipse class="de" cx="33" cy="0" rx="2.4" ry="1.6"/><text class="s" x="39.5" y="1">Less[0-5]</text></g>
<g transform="translate(567,1076.5)"><rect class="N lgr" x="-20.9" y="-6" width="41.8" height="12" rx="3"/><text class="t" x="0" y="2" textLength="33" lengthAdjust="spacingAndGlyphs">random_unifor...</text><text class="se" x="-37" y="1">add</text><ellipse class="de" cx="-32" cy="0" rx="2" ry="1.6"/><path class="sd" d="M-30,0H-21"/><path class="sl" d="M20.9,0H30.5"/><ellipse class="de" cx="33" cy="0" rx="2.4" ry="1.6"/><text class="s" x="39.5" y="1">Less[0-5]</text></g>
<g transform="translate(799,1076.5)"><rect class="N lgr" x="-20.9" y="-6" width="41.8" height="12" rx="3"/><text class="t" x="0" y="2" textLength="33" lengthAdjust="spacingAndGlyphs">random_unifor...</text><text class="se" x="-37" y="1">add</text><ellipse class="de" cx="-32" cy="0" rx="2" ry="1.6"/><path class="sd" d="M-30,0H-21"/><path class="sl" d="M20.9,0H30.5"/><ellipse class="de" cx="33" cy="0" rx="2.4" ry="1.6"/><text class="s" x="39.5" y="1">Less[0-5]</text></g>
<g transform="translate(996,1076.5)"><rect class="N lgr" x="-20.9" y="-6" width="41.8" height="12" rx="3"/><text class="t" x="0" y="2" textLength="33" lengthAdjust="spacingAndGlyphs">random_unifor...</text><text class="se" x="-37" y="1">add</text><ellipse class="de" cx="-32" cy="0" rx="2" ry="1.6"/><path class="sd" d="M-30,0H-21"/><path class="sl" d="M20.9,0H30.5"/><ellipse class="de" cx="33" cy="0" rx="2.4" ry="1.6"/><text class="s" x="39.5" y="1">Less[0-5]</text></g>
<g transform="translate(1228,1076.5)"><rect class="N lgr" x="-20.9" y="-6" width="41.8" height="12" rx="3"/><text class="t" x="0" y="2" textLength="33" lengthAdjust="spacingAndGlyphs">random_unifor...</text><text class="se" x="-37" y="1">add</text><ellipse class="de" cx="-32" cy="0" rx="2" ry="1.6"/><path class="sd" d="M-30,0H-21"/><path class="sl" d="M20.9,0H30.5"/><ellipse class="de" cx="33" cy="0" rx="2.4" ry="1.6"/><text class="s" x="39.5" y="1">Less[0-5]</text></g>

<g transform="translate(254.5,1076.5)"><rect class="N pnk" x="-20.9" y="-6.2" width="41.8" height="12.4" rx="3"/><text class="t" x="0" y="2.1">cond_1</text><text class="se" x="-40" y="-3.9">Less[0-5]</text><text class="se" x="-40" y="1">control_de...</text><text class="se" x="-40" y="5.9">add</text><ellipse class="de" cx="-33.5" cy="-4.9" rx="2" ry="1.6"/><ellipse class="de" cx="-33.5" cy="0" rx="2" ry="1.6"/><ellipse class="de" cx="-33.5" cy="4.9" rx="2" ry="1.6"/><path class="sl" d="M-31.3,-4.9L-21,-1M-31.3,0H-21M-31.3,4.9L-21,1M20.9,0H30.5"/><ellipse class="de" cx="33" cy="0" rx="2.4" ry="1.6"/><text class="s" x="39.5" y="1">control_de...</text></g>
<g transform="translate(486.5,1076.5)"><rect class="N pnk" x="-20.9" y="-6.2" width="41.8" height="12.4" rx="3"/><text class="t" x="0" y="2.1">cond_2</text><text class="se" x="-40" y="-3.9">Less[0-5]</text><text class="se" x="-40" y="1">control_de...</text><text class="se" x="-40" y="5.9">add</text><ellipse class="de" cx="-33.5" cy="-4.9" rx="2" ry="1.6"/><ellipse class="de" cx="-33.5" cy="0" rx="2" ry="1.6"/><ellipse class="de" cx="-33.5" cy="4.9" rx="2" ry="1.6"/><path class="sl" d="M-31.3,-4.9L-21,-1M-31.3,0H-21M-31.3,4.9L-21,1"/></g>
<g transform="translate(683,1076.5)"><rect class="N pnk" x="-20.9" y="-6.2" width="41.8" height="12.4" rx="3"/><text class="t" x="0" y="2.1">cond_3</text><text class="se" x="-40" y="-3.9">Less[0-5]</text><text class="se" x="-40" y="1">control_de...</text><text class="se" x="-40" y="5.9">add</text><ellipse class="de" cx="-33.5" cy="-4.9" rx="2" ry="1.6"/><ellipse class="de" cx="-33.5" cy="0" rx="2" ry="1.6"/><ellipse class="de" cx="-33.5" cy="4.9" rx="2" ry="1.6"/><path class="sl" d="M-31.3,-4.9L-21,-1M-31.3,0H-21M-31.3,4.9L-21,1M20.9,0H30.5"/><ellipse class="de" cx="33" cy="0" rx="2.4" ry="1.6"/><text class="s" x="39.5" y="1">control_de...</text></g>
<g transform="translate(915,1076.5)"><rect class="N pnk" x="-20.9" y="-6.2" width="41.8" height="12.4" rx="3"/><text class="t" x="0" y="2.1">cond_4</text><text class="se" x="-40" y="-3.9">Less[0-5]</text><text class="se" x="-40" y="1">control_de...</text><text class="se" x="-40" y="5.9">add</text><ellipse class="de" cx="-33.5" cy="-4.9" rx="2" ry="1.6"/><ellipse class="de" cx="-33.5" cy="0" rx="2" ry="1.6"/><ellipse class="de" cx="-33.5" cy="4.9" rx="2" ry="1.6"/><path class="sl" d="M-31.3,-4.9L-21,-1M-31.3,0H-21M-31.3,4.9L-21,1"/></g>
<g transform="translate(1112,1076.5)"><rect class="N pnk" x="-20.9" y="-6.2" width="41.8" height="12.4" rx="3"/><text class="t" x="0" y="2.1">cond_5</text><text class="se" x="-40" y="-3.9">Less[0-5]</text><text class="se" x="-40" y="1">control_de...</text><text class="se" x="-40" y="5.9">add</text><ellipse class="de" cx="-33.5" cy="-4.9" rx="2" ry="1.6"/><ellipse class="de" cx="-33.5" cy="0" rx="2" ry="1.6"/><ellipse class="de" cx="-33.5" cy="4.9" rx="2" ry="1.6"/><path class="sl" d="M-31.3,-4.9L-21,-1M-31.3,0H-21M-31.3,4.9L-21,1M20.9,0H30.5"/><ellipse class="de" cx="33" cy="0" rx="2.4" ry="1.6"/><text class="s" x="39.5" y="1">control_de...</text></g>

<rect class="N blu" x="1372" y="14.5" width="42" height="42" rx="3"/><text class="t" x="1393" y="37.5">gradients</text>
<g><text class="se" x="1355" y="25.4">add</text><ellipse class="de" cx="1360.7" cy="24.4" rx="4" ry="1.5"/>
<text class="se" x="1355" y="30.5">sigmoid_cr...</text><rect class="rg" x="1356.5" y="27.8" width="8.5" height="3.4" rx=".6"/>
<text class="se" x="1355" y="35.4">dense_3</text><rect class="rg" x="1356.5" y="32.7" width="8.5" height="3.4" rx=".6"/>
<text class="se" x="1355" y="40.3">dense_2</text><rect class="rg" x="1356.5" y="37.6" width="8.5" height="3.4" rx=".6"/>
<text class="se" x="1355" y="45.3">dropout_2</text><rect class="rv" x="1356.5" y="42.6" width="8.5" height="3.4" rx=".6"/>
<text class="se" x="1362" y="49">... 24 more</text>
<path class="sl" d="M1365,24.4L1372,23.5M1365,29.5L1372,28.5M1365,34.4L1372,33.5M1365,39.3L1372,38.5M1365,44.3L1372,43.5M1363,48H1372M1414,35.5H1421"/>
<rect class="rg" x="1421" y="33.8" width="9" height="3.4" rx=".6"/><text class="s" x="1432" y="36.6">Momentum</text></g>
<rect class="N blu" x="1389.5" y="71" width="42" height="43" rx="3"/><text class="t" x="1410.5" y="94.5">gradients_1</text>
<g><text class="se" x="1372.5" y="82.5">add</text><ellipse class="de" cx="1378.2" cy="81.5" rx="4" ry="1.5"/>
<text class="se" x="1372.5" y="87.4">sigmoid_cr...</text><rect class="rg" x="1374" y="84.7" width="8.5" height="3.4" rx=".6"/>
<text class="se" x="1372.5" y="92.3">dense_3</text><rect class="rg" x="1374" y="89.6" width="8.5" height="3.4" rx=".6"/>
<text class="se" x="1372.5" y="97.3">dense_2</text><rect class="rg" x="1374" y="94.6" width="8.5" height="3.4" rx=".6"/>
<text class="se" x="1372.5" y="102.2">dropout_2</text><rect class="rv" x="1374" y="99.5" width="8.5" height="3.4" rx=".6"/>
<text class="se" x="1379.5" y="106">... 24 more</text>
<path class="sl" d="M1382.5,81.5L1389.5,80.5M1382.5,86.4L1389.5,85.5M1382.5,91.3L1389.5,90.5M1382.5,96.3L1389.5,95.5M1382.5,101.2L1389.5,100.5M1381,105H1389.5"/></g>
<rect class="N gray" x="1389.5" y="132" width="42" height="16" rx="3"/><text class="t" x="1410.5" y="142.2">Momentum</text>
<g><text class="se" x="1372.5" y="130.3">gradients</text><rect class="rb" x="1374" y="127.6" width="8.5" height="3.4" rx=".6"/>
<text class="se" x="1372.5" y="135.2">conv2d</text><rect class="rg" x="1374" y="132.5" width="8.5" height="3.4" rx=".6"/>
<text class="se" x="1372.5" y="140.1">Exponential...</text><rect class="rg" x="1374" y="137.4" width="8.5" height="3.4" rx=".6"/>
<text class="se" x="1372.5" y="145.3">add</text><ellipse class="de" cx="1378.2" cy="144.3" rx="4" ry="1.5"/>
<text class="se" x="1372.5" y="150.2">conv2d_1</text><rect class="rn" x="1374" y="147.5" width="8.5" height="3.4" rx=".6"/>
<text class="se" x="1379.5" y="153.7">... 15 more</text>
<path class="sl" d="M1382.5,129.3L1389.5,137M1382.5,134.2L1389.5,138M1382.5,139.1L1389.5,139.5M1382.5,144.3L1389.5,141M1382.5,149.2L1389.5,142M1381,152.7L1389.5,143"/></g>
<rect class="N gray" x="1389.5" y="167" width="42" height="33" rx="3"/><text class="t" x="1410.5" y="185.5">save</text>
<g><text class="se" x="1372.5" y="173.4">conv2d</text><rect class="rg" x="1374" y="170.7" width="8.5" height="3.4" rx=".6"/>
<text class="se" x="1372.5" y="178.3">conv2d_1</text><rect class="rn" x="1374" y="175.6" width="8.5" height="3.4" rx=".6"/>
<text class="se" x="1372.5" y="183.2">conv2d_10</text><rect class="ry" x="1374" y="180.5" width="8.5" height="3.4" rx=".6"/>
<text class="se" x="1372.5" y="188.4">conv2d_11</text><rect class="ry" x="1374" y="185.7" width="8.5" height="3.4" rx=".6"/>
<text class="se" x="1372.5" y="193.3">conv2d_12</text><rect class="ry" x="1374" y="190.6" width="8.5" height="3.4" rx=".6"/>
<text class="se" x="1379.5" y="196.8">... 12 more</text>
<path class="sl" d="M1382.5,172.4L1389.5,171.5M1382.5,177.3L1389.5,176.5M1382.5,182.2L1389.5,181.5M1382.5,187.4L1389.5,186.5M1382.5,192.3L1389.5,191.5M1381,195.8H1389.5"/></g>
<rect class="N mag" x="1389.5" y="215" width="42" height="23" rx="3"/><text class="tb" x="1410.5" y="228.3" textLength="34" lengthAdjust="spacingAndGlyphs">report_uninitial...</text>
<g><text class="se" x="1372.5" y="216.5">global_step</text><rect class="rb" x="1374" y="213.8" width="8.5" height="3.4" rx=".6"/>
<text class="se" x="1372.5" y="221.4">conv2d</text><rect class="rg" x="1374" y="218.7" width="8.5" height="3.4" rx=".6"/>
<text class="se" x="1372.5" y="226.3">conv2d_1</text><rect class="rn" x="1374" y="223.6" width="8.5" height="3.4" rx=".6"/>
<text class="se" x="1372.5" y="231.4">conv2d_2</text><rect class="ry" x="1374" y="228.7" width="8.5" height="3.4" rx=".6"/>
<text class="se" x="1372.5" y="236.4">conv2d_3</text><rect class="ry" x="1374" y="233.7" width="8.5" height="3.4" rx=".6"/>
<text class="se" x="1379.5" y="239.9">... 12 more</text>
<path class="sl" d="M1382.5,215.5L1389.5,219M1382.5,220.4L1389.5,222M1382.5,225.3L1389.5,225M1382.5,230.4L1389.5,228M1382.5,235.4L1389.5,231M1381,238.9L1389.5,234"/></g>
<rect class="N mag" x="1372" y="254" width="42" height="23" rx="3"/><text class="tb" x="1393" y="267.3" textLength="34" lengthAdjust="spacingAndGlyphs">report_uninitial...</text>
<g><text class="se" x="1355" y="255.6">global_step</text><rect class="rb" x="1356.5" y="252.9" width="8.5" height="3.4" rx=".6"/>
<text class="se" x="1355" y="260.5">conv2d</text><rect class="rg" x="1356.5" y="257.8" width="8.5" height="3.4" rx=".6"/>
<text class="se" x="1355" y="265.4">conv2d_1</text><rect class="rn" x="1356.5" y="262.7" width="8.5" height="3.4" rx=".6"/>
<text class="se" x="1355" y="270.3">conv2d_2</text><rect class="ry" x="1356.5" y="267.6" width="8.5" height="3.4" rx=".6"/>
<text class="se" x="1355" y="275.5">conv2d_3</text><rect class="ry" x="1356.5" y="272.8" width="8.5" height="3.4" rx=".6"/>
<text class="se" x="1362" y="279">... 12 more</text>
<path class="sl" d="M1365,254.6L1372,258M1365,259.5L1372,261M1365,264.4L1372,264M1365,269.3L1372,267M1365,274.5L1372,270M1363,278L1372,273M1414,265.6H1421"/>
<ellipse class="de" cx="1424.6" cy="265.6" rx="3.5" ry="1.5"/><text class="s" x="1429.6" y="266.6">concat_2</text></g>
<g transform="translate(1393,304.5)">
<ellipse class="el" cx="-3" cy="0" rx="5.5" ry="2.1"/><ellipse class="el" cx="0" cy="0" rx="5.5" ry="2.1"/><ellipse class="el" cx="3" cy="0" rx="5.5" ry="2.1"/>
<text class="sc" x="0" y="-4" style="font-size:5px">Less[0-5]</text>
<path class="sl" d="M-15.3,-10.8L-8.5,-1M-15.3,-5.6L-8.5,-.5M-15.3,-.7L-8.5,0M-15.3,4.2L-8.5,.5M-15.3,9.1L-8.5,1M-17,12.8L-8.5,1.5M8.5,0L15.3,-10.8M8.5,0L15.3,-5.6M8.5,0L15.3,-.7M8.5,0L15.3,4.2M8.5,0L15.3,9.1M8.5,0L14,12.8"/>
<text class="se" x="-25.3" y="-9.8">random_un...</text><rect class="rn" x="-23.5" y="-12.5" width="8.2" height="3.4" rx=".6"/>
<text class="se" x="-25.3" y="-4.6">add</text><ellipse class="de" cx="-19.4" cy="-5.6" rx="4" ry="1.5"/>
<text class="se" x="-25.3" y=".3">random_un...</text><rect class="rn" x="-23.5" y="-2.4" width="8.2" height="3.4" rx=".6"/>
<text class="se" x="-25.3" y="5.2">random_un...</text><rect class="rn" x="-23.5" y="2.5" width="8.2" height="3.4" rx=".6"/>
<text class="se" x="-25.3" y="10.1">random_un...</text><rect class="rn" x="-23.5" y="7.4" width="8.2" height="3.4" rx=".6"/>
<text class="se" x="-18" y="13.8">... 2 more</text>
<rect class="rp" x="15.3" y="-12.5" width="8.6" height="3.4" rx=".6"/><text class="s" x="25.6" y="-9.8">cond_1</text>
<rect class="rp" x="15.3" y="-7.3" width="8.6" height="3.4" rx=".6"/><text class="s" x="25.6" y="-4.6">cond_2</text>
<rect class="rp" x="15.3" y="-2.4" width="8.6" height="3.4" rx=".6"/><text class="s" x="25.6" y=".3">cond_3</text>
<rect class="rp" x="15.3" y="2.5" width="8.6" height="3.4" rx=".6"/><text class="s" x="25.6" y="5.2">cond_4</text>
<rect class="rp" x="15.3" y="7.4" width="8.6" height="3.4" rx=".6"/><text class="s" x="25.6" y="10.1">cond_5</text>
<text class="s" x="17" y="13.8">... 1 more</text></g>
<g transform="translate(1393,343.6)">
<ellipse class="el" cx="-3" cy="0" rx="5.5" ry="2.1"/><ellipse class="el" cx="0" cy="0" rx="5.5" ry="2.1"/><ellipse class="el" cx="3" cy="0" rx="5.5" ry="2.1"/>
<path class="sl" d="M-15.3,-10.8L-8.5,-1M-15.3,-5.6L-8.5,-.5M-15.3,-.7L-8.5,0M-15.3,4.2L-8.5,.5M-15.3,9.1L-8.5,1M-17,12.8L-8.5,1.5M8.5,0L15.3,-10.8M8.5,0L15.3,-5.6M8.5,0L15.3,-.7M8.5,0L15.3,4.2M8.5,0L15.3,9.1M8.5,0L14,12.8"/>
<text class="se" x="-25.3" y="-9.8">random_crop</text><rect class="ro" x="-23.5" y="-12.5" width="8.2" height="3.4" rx=".6"/>
<text class="se" x="-25.3" y="-4.6">cond_1</text><rect class="rp" x="-23.5" y="-7.3" width="8.2" height="3.4" rx=".6"/>
<text class="se" x="-25.3" y=".3">random_cr...</text><rect class="ro" x="-23.5" y="-2.4" width="8.2" height="3.4" rx=".6"/>
<text class="se" x="-25.3" y="5.2">cond_3</text><rect class="rp" x="-23.5" y="2.5" width="8.2" height="3.4" rx=".6"/>
<text class="se" x="-25.3" y="10.1">random_cr...</text><rect class="ro" x="-23.5" y="7.4" width="8.2" height="3.4" rx=".6"/>
<text class="se" x="-18" y="13.8">... 1 more</text>
<rect class="rp" x="15.3" y="-12.5" width="8.6" height="3.4" rx=".6"/><text class="s" x="25.6" y="-9.8">cond_1</text>
<rect class="rp" x="15.3" y="-7.3" width="8.6" height="3.4" rx=".6"/><text class="s" x="25.6" y="-4.6">cond_2</text>
<rect class="rp" x="15.3" y="-2.4" width="8.6" height="3.4" rx=".6"/><text class="s" x="25.6" y=".3">cond_3</text>
<rect class="rp" x="15.3" y="2.5" width="8.6" height="3.4" rx=".6"/><text class="s" x="25.6" y="5.2">cond_4</text>
<rect class="rp" x="15.3" y="7.4" width="8.6" height="3.4" rx=".6"/><text class="s" x="25.6" y="10.1">cond_5</text>
<text class="s" x="17" y="13.8">... 1 more</text>
<text class="sc" x="0" y="-4" style="font-size:5px">control_dependency[0-5]</text></g>

<g>
<ellipse class="el" cx="1500.5" cy="26.5" rx="5" ry="2.1"/><text class="sc" x="1500.5" y="22">init</text>
<text class="se" x="1478" y="16.7">global_step</text><rect class="rb" x="1479.5" y="14" width="8.5" height="3.4" rx=".6"/>
<text class="se" x="1478" y="21.6">conv2d</text><rect class="rg" x="1479.5" y="18.9" width="8.5" height="3.4" rx=".6"/>
<text class="se" x="1478" y="26.5">conv2d_1</text><rect class="rn" x="1479.5" y="23.8" width="8.5" height="3.4" rx=".6"/>
<text class="se" x="1478" y="31.4">conv2d_2</text><rect class="ry" x="1479.5" y="28.7" width="8.5" height="3.4" rx=".6"/>
<text class="se" x="1478" y="36.4">conv2d_3</text><rect class="ry" x="1479.5" y="33.7" width="8.5" height="3.4" rx=".6"/>
<text class="se" x="1485" y="40.1">... 12 more</text>
<path class="sd" d="M1488,15.7L1495.5,26M1488,20.6L1495.5,26.2M1488,25.5L1495.5,26.5M1488,30.4L1495.5,26.8M1488,35.4L1495.5,27M1505.5,26.5H1512.5"/><path class="sl" d="M1486,39L1495.5,27.3"/>
<ellipse class="de" cx="1516" cy="26.5" rx="3.5" ry="1.5"/><text class="s" x="1521" y="27.5">group_deps</text>
<text class="sc" x="1482.5" y="50">init_1</text><ellipse class="el" cx="1482.7" cy="55.5" rx="5.3" ry="2.1"/><path class="sd" d="M1488,55.5H1495"/><ellipse class="de" cx="1498.6" cy="55.5" rx="3.5" ry="1.5"/><text class="s" x="1503.6" y="56.5">group_deps</text>
<text class="sc" x="1518" y="71">group_de...</text><ellipse class="el" cx="1518" cy="75.6" rx="5" ry="2.1"/>
<text class="se" x="1497" y="74.3">init</text><ellipse class="de" cx="1502" cy="73.3" rx="3.3" ry="1.4"/><text class="se" x="1497" y="79.2">init_1</text><ellipse class="de" cx="1502" cy="78.2" rx="3.3" ry="1.4"/><path class="sd" d="M1505.3,73.3L1513,75.4M1505.3,78.2L1513,75.8"/>
<text class="sc" x="1482.5" y="91">init_2</text><ellipse class="el" cx="1482.7" cy="96" rx="5.3" ry="2.1"/><path class="sd" d="M1488,96H1495"/><ellipse class="de" cx="1498.6" cy="96" rx="3.5" ry="1.5"/><text class="s" x="1503.6" y="97">group_deps...</text>
<text class="sc" x="1482.5" y="109.5">init_all_ta...</text><ellipse class="el" cx="1482.7" cy="114.5" rx="5.3" ry="2.1"/><path class="sd" d="M1488,114.5H1495"/><ellipse class="de" cx="1498.6" cy="114.5" rx="3.5" ry="1.5"/><text class="s" x="1503.6" y="115.5">group_deps...</text>
<text class="sc" x="1518" y="130">group_de...</text><ellipse class="el" cx="1518" cy="134.7" rx="5" ry="2.1"/>
<text class="se" x="1497" y="133.3">init_2</text><ellipse class="de" cx="1502" cy="132.3" rx="3.3" ry="1.4"/><text class="se" x="1497" y="138.3">init_all_tabl...</text><ellipse class="de" cx="1502" cy="137.3" rx="3.3" ry="1.4"/><path class="sd" d="M1505.3,132.3L1513,134.5M1505.3,137.3L1513,135"/>
<text class="sc" x="1518" y="154.5">concat_2</text><ellipse class="el" cx="1518" cy="159.3" rx="5" ry="2.1"/>
<text class="se" x="1501.5" y="155.3">Const</text><circle class="el" cx="1504.3" cy="154.3" r="1.1"/>
<text class="se" x="1501.5" y="160.3">axis</text><circle class="el" cx="1504.3" cy="159.3" r="1.1"/>
<text class="se" x="1495.5" y="165.2">report_unin...</text><rect class="rm" x="1497" y="162.5" width="8.6" height="3.4" rx=".6"/>
<path class="sl" d="M1505.5,154.5L1513,159M1505.5,159.3H1513M1505.6,164L1513,159.6"/>
</g>
</svg>
</body></html>
